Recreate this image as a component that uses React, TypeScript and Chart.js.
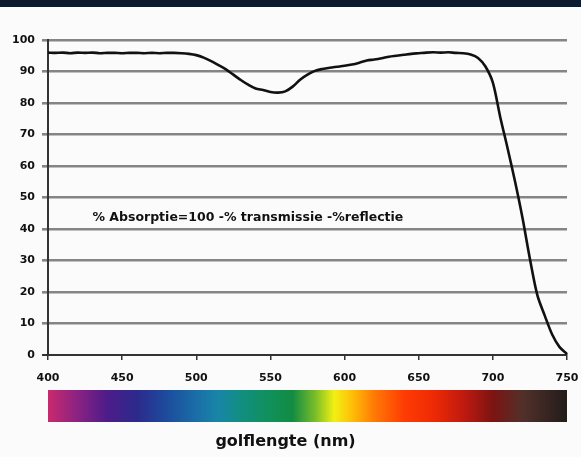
import React, { useEffect, useRef } from "react";
import { Chart, registerables } from "chart.js";

Chart.register(...registerables);

// ---- data ----
const wavelengths = [
  400, 405, 410, 415, 420, 425, 430, 435, 440, 445, 450, 455, 460, 465, 470, 475,
  480, 485, 490, 495, 500, 505, 510, 515, 520, 525, 530, 535, 540, 545, 550, 555,
  560, 565, 570, 575, 580, 585, 590, 595, 600, 605, 610, 615, 620, 625, 630, 635,
  640, 645, 650, 655, 660, 665, 670, 675, 680, 685, 690, 695, 700, 705, 710, 715,
  720, 725, 730, 735, 740, 745, 750, 753, 755, 757, 760,
];
const absorption = [
  96.0, 95.9, 96.0, 95.8, 96.0, 95.9, 96.0, 95.8, 95.9, 95.9, 95.8, 95.9, 95.9, 95.8, 95.9, 95.8,
  95.9, 95.9, 95.8, 95.6, 95.2, 94.4, 93.3, 92.0, 90.7, 89.0, 87.3, 85.8, 84.6, 84.1, 83.5, 83.3,
  83.7, 85.2, 87.4, 89.0, 90.2, 90.8, 91.2, 91.5, 91.8, 92.2, 92.8, 93.5, 93.8, 94.2, 94.7, 95.0,
  95.3, 95.6, 95.8, 96.0, 96.1, 96.0, 96.1, 95.9, 95.8, 95.4, 94.3, 91.6, 86.5, 75.5, 65.5, 55.0,
  43.5, 30.5, 19.0, 12.5, 6.5, 2.5, 0.3, -1.5, -2.0, -1.0, 1.5,
];
const xTicks = [400, 450, 500, 550, 600, 650, 700, 750];
const yTicks = [0, 10, 20, 30, 40, 50, 60, 70, 80, 90, 100];
const annotationText = "% Absorptie=100 -% transmissie -%reflectie";
const annotationAt = { x: 430, y: 43.5 };
const xAxisTitle = "golflengte (nm)";

// spectrum strip: wavelength -> colour (style)
const spectrumNm = [400, 420, 440, 460, 480, 500, 515, 530, 550, 565, 580, 593, 605, 620, 640, 660, 680, 700, 720, 750];
const spectrumColors = [
  "#c92a6e", "#8a2282", "#4c1c8a", "#2c2a8c", "#1c4c9c", "#1a6ea8", "#1886a6", "#128e80",
  "#10905a", "#138c42", "#78bc28", "#f2f012", "#ffbe08", "#ff7a06", "#ff3c04", "#ee2a04",
  "#c01a10", "#7c1412", "#52302a", "#221c1a",
];

const FONT = '"DejaVu Sans", Verdana, sans-serif';

const decorPlugin = {
  id: "decor",
  beforeDraw(chart: any) {
    const { ctx, width, height } = chart;
    ctx.save();
    ctx.fillStyle = "#fbfbfb";
    ctx.fillRect(0, 0, width, height);
    ctx.fillStyle = "#0c1a30";
    ctx.fillRect(0, 0, width, 7);
    ctx.restore();
  },
  afterDraw(chart: any) {
    const { ctx, chartArea } = chart;
    const xs = chart.scales.x;
    const ys = chart.scales.y;
    ctx.save();
    // spectrum strip
    const x0 = xs.getPixelForValue(xTicks[0]);
    const x1 = xs.getPixelForValue(xTicks[xTicks.length - 1]);
    const grad = ctx.createLinearGradient(x0, 0, x1, 0);
    spectrumNm.forEach((nm, i) => {
      grad.addColorStop((nm - 400) / 350, spectrumColors[i]);
    });
    ctx.fillStyle = grad;
    ctx.fillRect(x0, chartArea.bottom + 35, x1 - x0, 32);
    // x-axis title
    ctx.fillStyle = "#111";
    ctx.font = `bold 16px ${FONT}`;
    ctx.textAlign = "center";
    ctx.textBaseline = "middle";
    ctx.fillText(xAxisTitle, chart.width / 2 - 5, chartArea.bottom + 87);
    // annotation
    ctx.font = `bold 12.5px ${FONT}`;
    ctx.textAlign = "left";
    ctx.fillText(annotationText, xs.getPixelForValue(annotationAt.x), ys.getPixelForValue(annotationAt.y));
    ctx.restore();
  },
};

export default function App() {
  const ref = useRef<HTMLCanvasElement | null>(null);
  useEffect(() => {
    if (!ref.current) return;
    const chart = new Chart(ref.current, {
      type: "line",
      data: {
        datasets: [
          {
            data: wavelengths.map((x, i) => ({ x, y: absorption[i] })),
            borderColor: "#111",
            borderWidth: 2.6,
            pointRadius: 0,
            tension: 0.3,
            clip: false as any,
            fill: false,
          },
        ],
      },
      options: {
        animation: false,
        responsive: false,
        devicePixelRatio: 1,
        layout: { padding: { top: 40, right: 14, left: 0, bottom: 0 } },
        plugins: { legend: { display: false }, tooltip: { enabled: false }, title: { display: false } },
        scales: {
          x: {
            type: "linear",
            min: 400,
            max: 750,
            afterFit: (s: any) => {
              s.height = 102;
              s.paddingLeft = 0;
              s.paddingRight = 0;
            },
            afterBuildTicks: (s: any) => {
              s.ticks = xTicks.map((v) => ({ value: v }));
            },
            ticks: {
              color: "#111",
              font: { family: FONT, size: 11, weight: "bold" },
              padding: 12,
              maxRotation: 0,
              autoSkip: false,
            },
            grid: { drawOnChartArea: false, drawTicks: true, tickLength: 5, color: "#333", lineWidth: 1.5 },
            border: { display: true, color: "#333", width: 2 },
          },
          y: {
            min: 0,
            max: 100,
            afterFit: (s: any) => {
              s.width = 48;
              s.paddingTop = 0;
              s.paddingBottom = 0;
            },
            afterBuildTicks: (s: any) => {
              s.ticks = yTicks.map((v) => ({ value: v }));
            },
            ticks: {
              color: "#111",
              font: { family: FONT, size: 11, weight: "bold" },
              padding: 7,
              autoSkip: false,
            },
            grid: {
              color: (c: any) => (c.tick && c.tick.value === 0 ? "#333" : "#858585"),
              lineWidth: (c: any) => (c.tick && c.tick.value === 0 ? 2 : 2.6),
              tickLength: 6,
            },
            border: { display: true, color: "#333", width: 2 },
          },
        },
      },
      plugins: [decorPlugin],
    });
    return () => chart.destroy();
  }, []);
  return (
    <div style={{ position: "fixed", left: 0, top: 0, width: 581, height: 457 }}>
      <canvas ref={ref} width={581} height={457} style={{ display: "block", width: 581, height: 457 }} />
    </div>
  );
}
